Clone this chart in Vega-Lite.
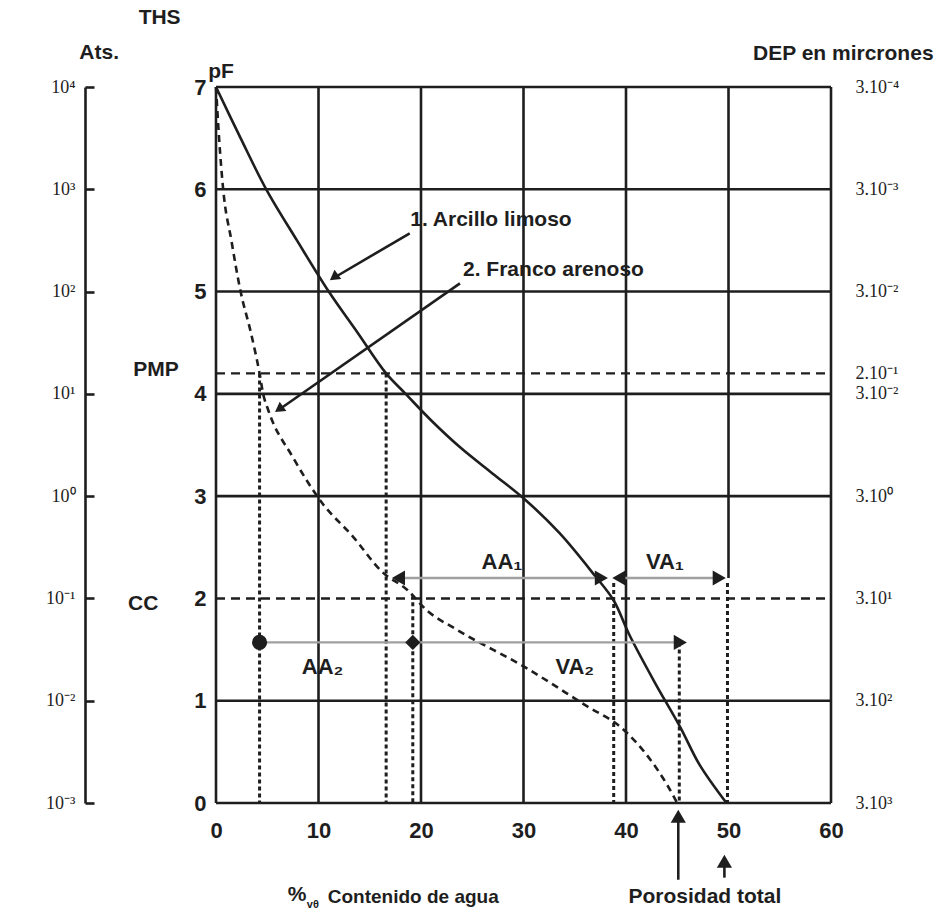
{
  "$schema": "https://vega.github.io/schema/vega-lite/v6.json",
  "width": 615,
  "height": 716,
  "autosize": {"type": "none"},
  "padding": {"left": 216, "top": 87, "right": 115, "bottom": 112},
  "background": "white",
  "config": {
    "view": {"stroke": null},
    "font": "Liberation Sans",
    "text": {"font": "Liberation Sans", "fontWeight": "bold", "fontSize": 21, "color": "#1e1e1e"}
  },
  "datasets": {
    "rejilla_v": [
      {"x": 0, "desde": 0, "hasta": 7},
      {"x": 10, "desde": 0, "hasta": 7},
      {"x": 20, "desde": 0, "hasta": 7},
      {"x": 30, "desde": 0, "hasta": 7},
      {"x": 40, "desde": 0, "hasta": 7},
      {"x": 50, "desde": 2.2, "hasta": 7},
      {"x": 60, "desde": 0, "hasta": 7}
    ],
    "rejilla_h": [
      {"pF": 0}, {"pF": 1}, {"pF": 3}, {"pF": 4}, {"pF": 5}, {"pF": 6}, {"pF": 7}
    ],
    "limites": [
      {"nombre": "PMP", "pF": 4.2},
      {"nombre": "CC", "pF": 2}
    ],
    "verticales": [
      {"x": 4.25, "desde": 4.2},
      {"x": 16.6, "desde": 4.2},
      {"x": 19.2, "desde": 2.03},
      {"x": 38.8, "desde": 2.15},
      {"x": 45.2, "desde": 1.57},
      {"x": 49.9, "desde": 2.15}
    ],
    "curvas": [
      {"suelo": "1", "x": 0, "pF": 7},
      {"suelo": "1", "x": 2.4, "pF": 6.5},
      {"suelo": "1", "x": 4.9, "pF": 6.0},
      {"suelo": "1", "x": 7.9, "pF": 5.5},
      {"suelo": "1", "x": 11.0, "pF": 5.0},
      {"suelo": "1", "x": 13.8, "pF": 4.6},
      {"suelo": "1", "x": 16.6, "pF": 4.2},
      {"suelo": "1", "x": 18.5, "pF": 4.0},
      {"suelo": "1", "x": 21.0, "pF": 3.74},
      {"suelo": "1", "x": 23.9, "pF": 3.47},
      {"suelo": "1", "x": 27.0, "pF": 3.22},
      {"suelo": "1", "x": 30.0, "pF": 2.98},
      {"suelo": "1", "x": 33.5, "pF": 2.64},
      {"suelo": "1", "x": 36.9, "pF": 2.23},
      {"suelo": "1", "x": 38.8, "pF": 1.98},
      {"suelo": "1", "x": 40.3, "pF": 1.65},
      {"suelo": "1", "x": 42.8, "pF": 1.18},
      {"suelo": "1", "x": 45.3, "pF": 0.74},
      {"suelo": "1", "x": 47.2, "pF": 0.37},
      {"suelo": "1", "x": 49.8, "pF": 0},
      {"suelo": "2", "x": 0, "pF": 7},
      {"suelo": "2", "x": 0.3, "pF": 6.5},
      {"suelo": "2", "x": 0.7, "pF": 6.0},
      {"suelo": "2", "x": 1.5, "pF": 5.5},
      {"suelo": "2", "x": 2.4, "pF": 5.0},
      {"suelo": "2", "x": 3.4, "pF": 4.6},
      {"suelo": "2", "x": 4.25, "pF": 4.2},
      {"suelo": "2", "x": 4.6, "pF": 4.0},
      {"suelo": "2", "x": 5.1, "pF": 3.84},
      {"suelo": "2", "x": 7.5, "pF": 3.38},
      {"suelo": "2", "x": 10.3, "pF": 2.94},
      {"suelo": "2", "x": 13.4, "pF": 2.6},
      {"suelo": "2", "x": 16.2, "pF": 2.26},
      {"suelo": "2", "x": 18.7, "pF": 2.08},
      {"suelo": "2", "x": 20.6, "pF": 1.88},
      {"suelo": "2", "x": 23.4, "pF": 1.7},
      {"suelo": "2", "x": 30.1, "pF": 1.33},
      {"suelo": "2", "x": 36.3, "pF": 0.94},
      {"suelo": "2", "x": 39.5, "pF": 0.74},
      {"suelo": "2", "x": 42.4, "pF": 0.42},
      {"suelo": "2", "x": 44.0, "pF": 0.18},
      {"suelo": "2", "x": 45.0, "pF": 0}
    ],
    "tramos": [
      {"tramo": "AA1", "pF": 2.2, "x1": 18.2, "x2": 37.2},
      {"tramo": "VA1", "pF": 2.2, "x1": 39.6, "x2": 48.8},
      {"tramo": "AA2", "pF": 1.57, "x1": 4.25, "x2": 19.2},
      {"tramo": "VA2", "pF": 1.57, "x1": 19.2, "x2": 45.0}
    ],
    "puntas": [
      {"x": 17.8, "pF": 2.2, "tipo": "izquierda"},
      {"x": 37.6, "pF": 2.2, "tipo": "derecha"},
      {"x": 39.3, "pF": 2.2, "tipo": "izquierda"},
      {"x": 49.1, "pF": 2.2, "tipo": "derecha"},
      {"x": 4.25, "pF": 1.57, "tipo": "punto"},
      {"x": 19.2, "pF": 1.57, "tipo": "rombo"},
      {"x": 45.3, "pF": 1.57, "tipo": "derecha"},
      {"x": 45.1, "pF": -0.13, "tipo": "arriba"},
      {"x": 49.6, "pF": -0.57, "tipo": "arriba"}
    ],
    "flechas": [
      {"x1": 18.9, "y1": 5.57, "x2": 11.6, "y2": 5.14},
      {"x1": 23.8, "y1": 5.08, "x2": 6.2, "y2": 3.85}
    ],
    "puntas_flechas": [
      {"x": 11.5, "pF": 5.14},
      {"x": 6.15, "pF": 3.85}
    ],
    "porosidad": [
      {"x": 45.1, "desde": -0.75, "hasta": -0.15},
      {"x": 49.6, "desde": -0.73, "hasta": -0.6}
    ]
  },
  "resolve": {
    "scale": {"x": "independent", "y": "independent"},
    "axis": {"x": "independent", "y": "independent"}
  },
  "layer": [
    {
      "layer": [
        {
          "data": {"name": "rejilla_v"},
          "mark": {"type": "rule", "stroke": "#1e1e1e", "strokeWidth": 2.6},
          "encoding": {
            "x": {"field": "x", "type": "quantitative", "scale": {"domain": [0, 60], "nice": false}, "axis": null},
            "y": {"field": "desde", "type": "quantitative", "scale": {"domain": [0, 7], "nice": false}, "axis": null},
            "y2": {"field": "hasta"}
          }
        },
        {
          "data": {"name": "rejilla_h"},
          "mark": {"type": "rule", "stroke": "#1e1e1e", "strokeWidth": 2.6},
          "encoding": {
            "x": {"datum": 0, "type": "quantitative", "axis": null},
            "x2": {"datum": 60},
            "y": {"field": "pF", "type": "quantitative", "axis": null}
          }
        },
        {
          "data": {"name": "limites"},
          "mark": {"type": "rule", "stroke": "#1e1e1e", "strokeWidth": 2.4, "strokeDash": [9, 6]},
          "encoding": {
            "x": {"datum": 0, "type": "quantitative", "axis": null},
            "x2": {"datum": 60},
            "y": {"field": "pF", "type": "quantitative", "axis": null}
          }
        },
        {
          "data": {"name": "verticales"},
          "mark": {"type": "rule", "stroke": "#1e1e1e", "strokeWidth": 3, "strokeDash": [4, 3]},
          "encoding": {
            "x": {"field": "x", "type": "quantitative", "axis": null},
            "y": {"field": "desde", "type": "quantitative", "axis": null},
            "y2": {"datum": 0}
          }
        },
        {
          "data": {"name": "curvas"},
          "transform": [{"filter": "datum.suelo == '1'"}],
          "mark": {"type": "line", "stroke": "#1e1e1e", "strokeWidth": 2.6, "interpolate": "catmull-rom"},
          "encoding": {
            "x": {"field": "x", "type": "quantitative", "axis": null},
            "y": {"field": "pF", "type": "quantitative", "axis": null}
          }
        },
        {
          "data": {"name": "curvas"},
          "transform": [{"filter": "datum.suelo == '2'"}],
          "mark": {"type": "line", "stroke": "#1e1e1e", "strokeWidth": 2.6, "strokeDash": [7, 5], "interpolate": "monotone"},
          "encoding": {
            "x": {"field": "x", "type": "quantitative", "axis": null},
            "y": {"field": "pF", "type": "quantitative", "axis": null}
          }
        },
        {
          "data": {"name": "tramos"},
          "mark": {"type": "rule", "stroke": "#a0a0a0", "strokeWidth": 2.4},
          "encoding": {
            "x": {"field": "x1", "type": "quantitative", "axis": null},
            "x2": {"field": "x2"},
            "y": {"field": "pF", "type": "quantitative", "axis": null}
          }
        },
        {
          "data": {"name": "puntas"},
          "mark": {"type": "point", "filled": true, "fill": "#1e1e1e", "opacity": 1, "strokeWidth": 0},
          "encoding": {
            "x": {"field": "x", "type": "quantitative", "axis": null},
            "y": {"field": "pF", "type": "quantitative", "axis": null},
            "shape": {"field": "tipo", "type": "nominal", "legend": null,
              "scale": {"domain": ["izquierda", "derecha", "arriba", "punto", "rombo"], "range": ["triangle-left", "triangle-right", "triangle-up", "circle", "diamond"]}},
            "size": {"field": "tipo", "type": "nominal", "legend": null,
              "scale": {"domain": ["izquierda", "derecha", "arriba", "punto", "rombo"], "range": [230, 230, 200, 60, 90]}}
          }
        },
        {
          "data": {"name": "flechas"},
          "mark": {"type": "rule", "stroke": "#1e1e1e", "strokeWidth": 2.6},
          "encoding": {
            "x": {"field": "x1", "type": "quantitative", "axis": null},
            "x2": {"field": "x2"},
            "y": {"field": "y1", "type": "quantitative", "axis": null},
            "y2": {"field": "y2"}
          }
        },
        {
          "data": {"name": "puntas_flechas"},
          "mark": {"type": "point", "shape": "triangle-up", "angle": 234, "filled": true, "fill": "#1e1e1e", "opacity": 1, "size": 130, "strokeWidth": 0},
          "encoding": {
            "x": {"field": "x", "type": "quantitative", "axis": null},
            "y": {"field": "pF", "type": "quantitative", "axis": null}
          }
        },
        {
          "data": {"name": "porosidad"},
          "mark": {"type": "rule", "stroke": "#1e1e1e", "strokeWidth": 2.6},
          "encoding": {
            "x": {"field": "x", "type": "quantitative", "axis": null},
            "y": {"field": "desde", "type": "quantitative", "axis": null},
            "y2": {"field": "hasta"}
          }
        },
        {
          "data": {"values": [
            {"texto": "1.  Arcillo limoso", "x": 18.95, "pF": 5.7},
            {"texto": "2.  Franco arenoso", "x": 24.1, "pF": 5.21}
          ]},
          "mark": {"type": "text", "align": "left", "baseline": "middle", "fontSize": 21},
          "encoding": {
            "x": {"field": "x", "type": "quantitative", "axis": null},
            "y": {"field": "pF", "type": "quantitative", "axis": null},
            "text": {"field": "texto"}
          }
        },
        {
          "data": {"values": [
            {"texto": "AA₁", "x": 27.9, "pF": 2.36},
            {"texto": "VA₁", "x": 43.8, "pF": 2.36},
            {"texto": "AA₂", "x": 10.4, "pF": 1.33},
            {"texto": "VA₂", "x": 35.0, "pF": 1.33}
          ]},
          "mark": {"type": "text", "align": "center", "baseline": "middle", "fontSize": 22},
          "encoding": {
            "x": {"field": "x", "type": "quantitative", "axis": null},
            "y": {"field": "pF", "type": "quantitative", "axis": null},
            "text": {"field": "texto"}
          }
        },
        {
          "data": {"values": [
            {"texto": "THS", "x": -5.5, "pF": 7.67},
            {"texto": "Ats.", "x": -11.4, "pF": 7.33},
            {"texto": "pF", "x": 0.5, "pF": 7.15},
            {"texto": "PMP", "x": -5.85, "pF": 4.23},
            {"texto": "CC", "x": -7.1, "pF": 1.95},
            {"texto": "DEP en mircrones", "x": 61.2, "pF": 7.32},
            {"texto": "%", "x": 7.9, "pF": -0.9},
            {"texto": "Porosidad total", "x": 47.7, "pF": -0.92}
          ]},
          "mark": {"type": "text", "align": "center", "baseline": "middle", "fontSize": 21},
          "encoding": {
            "x": {"field": "x", "type": "quantitative", "axis": null},
            "y": {"field": "pF", "type": "quantitative", "axis": null},
            "text": {"field": "texto"}
          }
        },
        {
          "data": {"values": [{"texto": "Contenido de agua", "x": 10.9, "pF": -0.92}]},
          "mark": {"type": "text", "align": "left", "baseline": "middle", "fontSize": 19},
          "encoding": {
            "x": {"field": "x", "type": "quantitative", "axis": null},
            "y": {"field": "pF", "type": "quantitative", "axis": null},
            "text": {"field": "texto"}
          }
        },
        {
          "data": {"values": [{"texto": "vθ", "x": 9.45, "pF": -1.0}]},
          "mark": {"type": "text", "align": "center", "baseline": "middle", "fontSize": 11},
          "encoding": {
            "x": {"field": "x", "type": "quantitative", "axis": null},
            "y": {"field": "pF", "type": "quantitative", "axis": null},
            "text": {"field": "texto"}
          }
        }
      ]
    },
    {
      "data": {"values": [{"x": 0}, {"x": 10}, {"x": 20}, {"x": 30}, {"x": 40}, {"x": 50}, {"x": 60}]},
      "mark": {"type": "point", "opacity": 0},
      "encoding": {
        "x": {"field": "x", "type": "quantitative", "scale": {"domain": [0, 60], "nice": false},
          "axis": {"orient": "bottom", "values": [0, 10, 20, 30, 40, 50, 60], "title": null, "domain": false, "ticks": false, "grid": false,
            "labelFont": "Liberation Sans", "labelFontWeight": "bold", "labelFontSize": 22, "labelColor": "#1e1e1e", "labelPadding": 17, "labelFlush": false, "labelOverlap": false}}
      }
    },
    {
      "data": {"values": [{"pF": 0}, {"pF": 1}, {"pF": 2}, {"pF": 3}, {"pF": 4}, {"pF": 5}, {"pF": 6}, {"pF": 7}]},
      "mark": {"type": "point", "opacity": 0},
      "encoding": {
        "y": {"field": "pF", "type": "quantitative", "scale": {"domain": [0, 7], "nice": false},
          "axis": {"orient": "left", "values": [0, 1, 2, 3, 4, 5, 6, 7], "title": null, "domain": false, "ticks": false, "grid": false,
            "labelFont": "Liberation Sans", "labelFontWeight": "bold", "labelFontSize": 22, "labelColor": "#1e1e1e", "labelPadding": 10, "labelFlush": false, "labelOverlap": false}}
      }
    },
    {
      "data": {"values": [
        {"pF": 0, "atm": "10⁻³"}, {"pF": 1, "atm": "10⁻²"}, {"pF": 2, "atm": "10⁻¹"}, {"pF": 3, "atm": "10⁰"},
        {"pF": 4, "atm": "10¹"}, {"pF": 5, "atm": "10²"}, {"pF": 6, "atm": "10³"}, {"pF": 7, "atm": "10⁴"}
      ]},
      "mark": {"type": "point", "opacity": 0},
      "encoding": {
        "y": {"field": "pF", "type": "quantitative", "scale": {"domain": [0, 7], "nice": false},
          "axis": {"orient": "left", "offset": 131, "values": [0, 1, 2, 3, 4, 5, 6, 7],
            "labelExpr": "['10⁻³','10⁻²','10⁻¹','10⁰','10¹','10²','10³','10⁴'][datum.value]",
            "title": null, "grid": false, "domain": true, "domainColor": "#1e1e1e", "domainWidth": 2.6,
            "ticks": true, "tickSize": -9, "tickWidth": 2.6, "tickColor": "#1e1e1e",
            "labelPadding": 19, "labelFont": "Liberation Serif", "labelFontSize": 18, "labelColor": "#1e1e1e", "labelFlush": false, "labelOverlap": false}}
      }
    },
    {
      "data": {"values": [
        {"pF": 0, "dep": "3.10³"}, {"pF": 1, "dep": "3.10²"}, {"pF": 2, "dep": "3.10¹"}, {"pF": 3, "dep": "3.10⁰"},
        {"pF": 4, "dep": "3.10⁻²"}, {"pF": 4.2, "dep": "2.10⁻¹"}, {"pF": 5, "dep": "3.10⁻²"}, {"pF": 6, "dep": "3.10⁻³"}, {"pF": 7, "dep": "3.10⁻⁴"}
      ]},
      "mark": {"type": "point", "opacity": 0},
      "encoding": {
        "y": {"field": "pF", "type": "quantitative", "scale": {"domain": [0, 7], "nice": false},
          "axis": {"orient": "right", "values": [0, 1, 2, 3, 4, 4.2, 5, 6, 7],
            "labelExpr": "{'0':'3.10³','1':'3.10²','2':'3.10¹','3':'3.10⁰','4':'3.10⁻²','4.2':'2.10⁻¹','5':'3.10⁻²','6':'3.10⁻³','7':'3.10⁻⁴'}[datum.value]",
            "title": null, "grid": false, "domain": false, "ticks": false,
            "labelPadding": 24, "labelFont": "Liberation Serif", "labelFontSize": 18, "labelColor": "#1e1e1e", "labelFlush": false, "labelOverlap": false}}
      }
    }
  ]
}
